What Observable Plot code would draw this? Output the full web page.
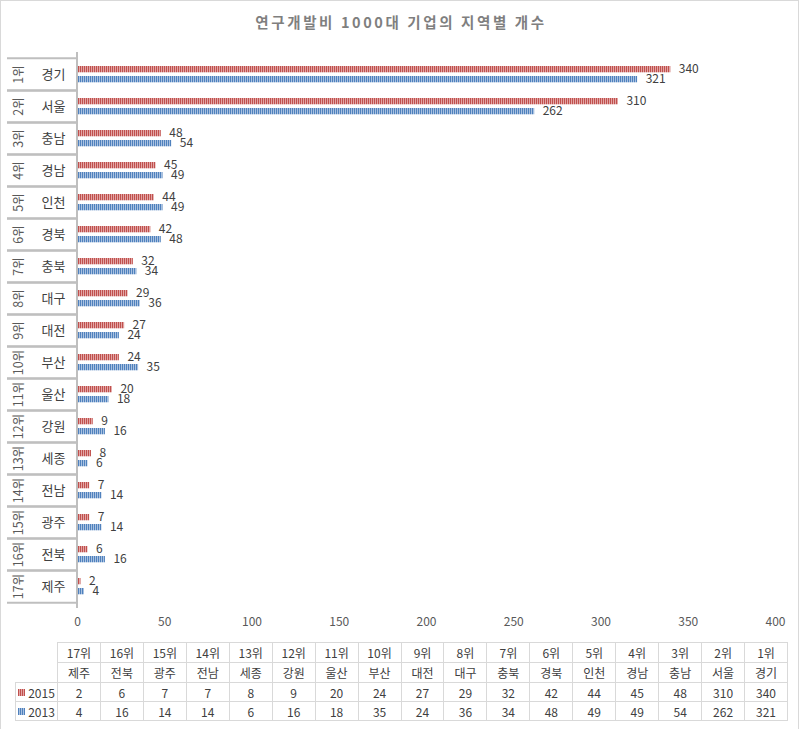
<!DOCTYPE html>
<html>
<head>
<meta charset="utf-8">
<script src="https://cdn.jsdelivr.net/npm/d3@7"></script>
<script src="https://cdn.jsdelivr.net/npm/@observablehq/plot@0.6"></script>
<style>
  html, body { margin: 0; padding: 0; background: #fff; }
  #wrap { position: relative; width: 802px; height: 729px; overflow: hidden; font-family: "Noto Sans CJK KR", sans-serif; color: #404040; }
  #border { position: absolute; left: 0; top: 0; width: 797px; height: 740px; border: 1px solid #d9d9d9; }
  #title { position: absolute; left: 0; top: 10px; width: 802px; text-align: center; font-size: 14.5px; font-weight: bold; letter-spacing: 2.6px; color: #7f7f7f; line-height: 24px; }
  #chart { position: absolute; left: 0; top: 40px; }
  .cell { position: absolute; box-sizing: border-box; border: 1px solid #d9d9d9; font-size: 12px; text-align: center; color: #404040; display: flex; align-items: center; justify-content: center; }
  .sw { display: inline-block; width: 7px; height: 7px; margin-right: 3px; }
</style>
</head>
<body>
<div id="wrap">
  <div id="border"></div>
  <div id="title">연구개발비 1000대 기업의 지역별 개수</div>
  <div id="chart"></div>
  <div id="table"></div>
</div>
<script>
const categories = ["경기","서울","충남","경남","인천","경북","충북","대구","대전","부산","울산","강원","세종","전남","광주","전북","제주"];
const ranks = ["1위","2위","3위","4위","5위","6위","7위","8위","9위","10위","11위","12위","13위","14위","15위","16위","17위"];
const series2015 = [340,310,48,45,44,42,32,29,27,24,20,9,8,7,7,6,2];
const series2013 = [321,262,54,49,49,48,34,36,24,35,18,16,6,14,14,16,4];
const seriesNames = ["2015","2013"];
const xTicks = [0,50,100,150,200,250,300,350,400];

const rows = categories.map((c, i) => ({cat: c, rank: ranks[i], v15: series2015[i], v13: series2013[i]}));

const band = 556 / categories.length;

const plot = Plot.plot({
  width: 802,
  height: 593,
  marginTop: 12,
  marginBottom: 25,
  marginLeft: 77,
  marginRight: 27,
  style: {fontFamily: "'Noto Sans CJK KR', sans-serif", fontSize: "12px", color: "#404040", background: "transparent"},
  x: {domain: [0, 400], axis: null},
  y: {type: "band", domain: categories, padding: 0, axis: null},
  marks: [
    Plot.barX(rows, {x: "v15", y: "cat", fill: "url(#pRed)", insetTop: 8, insetBottom: band - 15}),
    Plot.barX(rows, {x: "v13", y: "cat", fill: "url(#pBlue)", insetTop: 18, insetBottom: band - 25}),
    Plot.text(rows, {x: "v15", y: "cat", text: d => d.v15, dx: 8, dy: -4.9, textAnchor: "start", fill: "#404040", fontSize: 12}),
    Plot.text(rows, {x: "v13", y: "cat", text: d => d.v13, dx: 8, dy: 5.1, textAnchor: "start", fill: "#404040", fontSize: 12}),
    Plot.axisY({anchor: "left", tickSize: 70, tickFormat: () => "", label: null, dy: -band / 2, stroke: "#bfbfbf", strokeWidth: 2}),
    Plot.axisY({anchor: "left", tickSize: 70, tickFormat: () => "", label: null, dy: band / 2, stroke: "#bfbfbf", strokeWidth: 2}),
    Plot.ruleX([0], {stroke: "#bfbfbf", strokeWidth: 2, dx: -0.5}),
    Plot.text(rows, {y: "cat", text: "rank", frameAnchor: "left", dx: -59, rotate: -90, textAnchor: "middle", fill: "#595959", fontSize: 12.5}),
    Plot.text(rows, {y: "cat", text: "cat", frameAnchor: "left", dx: -24, textAnchor: "middle", fill: "#404040", fontSize: 13}),
    Plot.axisX({anchor: "bottom", ticks: xTicks, tickSize: 0, tickPadding: 9, label: null, fill: "#595959", fontSize: 12})
  ]
});

const ns = "http://www.w3.org/2000/svg";
const defs = document.createElementNS(ns, "defs");
defs.innerHTML = `
  <pattern id="pRed" width="2" height="10" patternUnits="userSpaceOnUse">
    <rect width="2" height="10" fill="#e2a5a4"></rect><rect width="1" height="10" fill="#c0504d"></rect>
  </pattern>
  <pattern id="pBlue" width="2" height="10" patternUnits="userSpaceOnUse">
    <rect width="2" height="10" fill="#a9c1e0"></rect><rect width="1" height="10" fill="#4f81bd"></rect>
  </pattern>`;
plot.insertBefore(defs, plot.firstChild);
document.getElementById("chart").appendChild(plot);

// Data table below the chart
const table = document.getElementById("table");
const colW = 730 / 17;
const rowTops = [642, 662, 682, 701];
const rowH = [20, 20, 19, 19];
const order = d3.range(categories.length).reverse();
function cell(left, top, w, h, html) {
  const d = document.createElement("div");
  d.className = "cell";
  d.style.left = left + "px";
  d.style.top = top + "px";
  d.style.width = (w + 1) + "px";
  d.style.height = (h + 1) + "px";
  d.innerHTML = html;
  table.appendChild(d);
}
order.forEach((idx, j) => {
  const left = 57 + j * colW;
  cell(left, rowTops[0], colW, rowH[0], ranks[idx]);
  cell(left, rowTops[1], colW, rowH[1], categories[idx]);
  cell(left, rowTops[2], colW, rowH[2], series2015[idx]);
  cell(left, rowTops[3], colW, rowH[3], series2013[idx]);
});
const swRed = "repeating-linear-gradient(90deg, #c0504d 0 1px, #e2a5a4 1px 2px)";
const swBlue = "repeating-linear-gradient(90deg, #4f81bd 0 1px, #a9c1e0 1px 2px)";
cell(15, rowTops[2], 42, rowH[2], `<span class="sw" style="background:${swRed}"></span>${seriesNames[0]}`);
cell(15, rowTops[3], 42, rowH[3], `<span class="sw" style="background:${swBlue}"></span>${seriesNames[1]}`);
</script>
</body>
</html>
